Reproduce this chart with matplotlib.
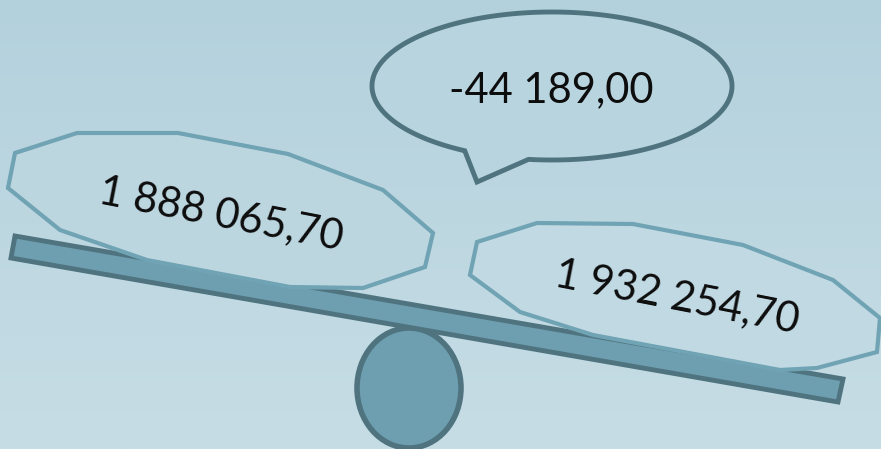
import numpy as np
import matplotlib.pyplot as plt
from matplotlib.patches import Polygon, Ellipse

# values shown on the scale
left_value = 1888065.70
right_value = 1932254.70
difference = left_value - right_value


def fmt(v):
    s = f"{abs(v):,.2f}".replace(",", " ").replace(".", ",")
    return ("-" if v < 0 else "") + s


dark = "#4f7480"
mid = "#6e9fb0"
rim = "#70a3b3"
plt.rcParams['font.family'] = ['Lato', 'DejaVu Sans']

fig = plt.figure(figsize=(8.81, 4.49), dpi=100)
ax = fig.add_axes([0, 0, 1, 1])
ax.set_xlim(0, 881)
ax.set_ylim(449, 0)
ax.axis("off")

# background gradient
top = np.array([0xb3, 0xd1, 0xdd]) / 255
bot = np.array([0xc7, 0xdd, 0xe5]) / 255
t = np.linspace(0, 1, 256)[:, None, None]
grad = top + (bot - top) * t
ax.imshow(np.repeat(grad, 2, axis=1), extent=[0, 881, 449, 0], aspect="auto", zorder=0)

# pivot
ax.add_patch(Ellipse((409, 388), 104, 120, fc=mid, ec=dark, lw=4, zorder=1))
# beam
ax.add_patch(Polygon([(15, 236), (843, 379), (838, 402), (11, 258)],
                     closed=True, fc=mid, ec=dark, lw=3.5, joinstyle="miter", zorder=2))

# left pan
left_pts = [(15, 153), (77, 133), (178, 133), (288, 154), (383, 190), (433, 233),
            (425, 267), (363, 288), (290, 287), (147, 260), (60, 230), (8, 188)]
ax.add_patch(Polygon(left_pts, closed=True, fc="#bcd6e0", ec=rim, lw=3, zorder=3))
# right pan
right_pts = [(477, 242), (537, 223), (633, 224), (743, 245), (833, 280), (880, 318),
             (877, 352), (817, 368), (780, 370), (593, 335), (520, 312), (470, 275)]
ax.add_patch(Polygon(right_pts, closed=True, fc="#c0d9e3", ec=rim, lw=3, zorder=3))

# speech bubble
theta = np.linspace(0, 2 * np.pi, 400)
cx, cy, rx, ry = 552, 86, 180, 74
a1 = np.arctan2((152 - cy) / ry, (463 - cx) / rx) % (2 * np.pi)
a2 = np.arctan2((161 - cy) / ry, (528 - cx) / rx) % (2 * np.pi)
arc = np.linspace(a1, a2 + 2 * np.pi, 400)
bx = list(cx + rx * np.cos(arc)) + [477]
by = list(cy + ry * np.sin(arc)) + [182]
ax.add_patch(Polygon(np.column_stack([bx, by]), closed=True, fc="#b7d4df", ec=dark, lw=3.5, zorder=4))

ax.text(221, 214, fmt(left_value), fontsize=30, rotation=-11, ha="center", va="center",
        color="#0d0d0d", zorder=5, rotation_mode="anchor")
ax.text(677, 297, fmt(right_value), fontsize=30, rotation=-11, ha="center", va="center",
        color="#0d0d0d", zorder=5, rotation_mode="anchor")
ax.text(551, 90, fmt(difference), fontsize=30, ha="center", va="center",
        color="#0d0d0d", zorder=5)

fig.savefig("out.png", dpi=100)
